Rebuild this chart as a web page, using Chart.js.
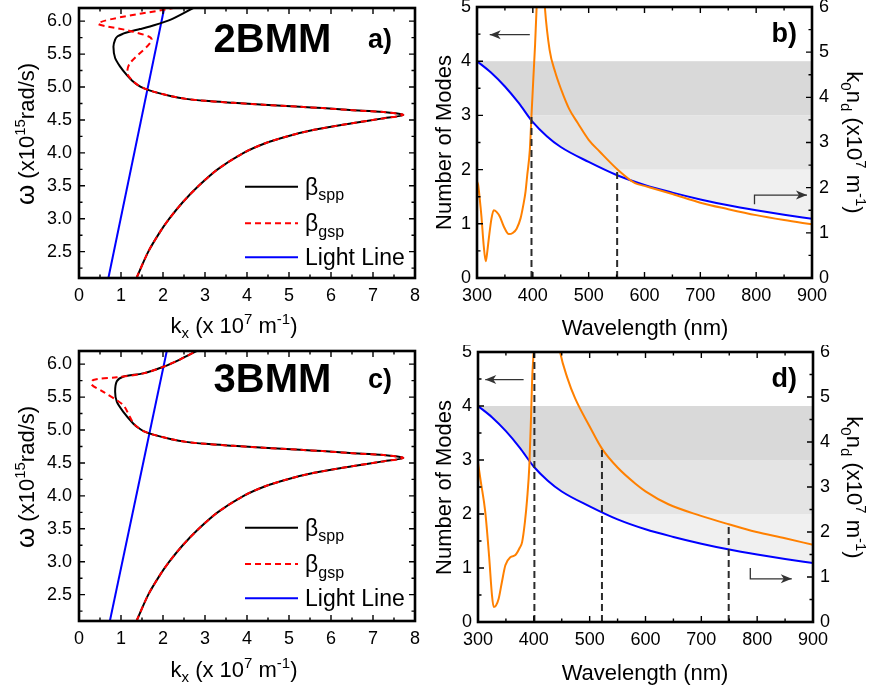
<!DOCTYPE html>
<html>
<head>
<meta charset="utf-8">
<script src="https://cdn.jsdelivr.net/npm/chart.js@4.4.1/dist/chart.umd.min.js"></script>
<style>
  html, body { margin: 0; padding: 0; background: #fff; }
  #fig { position: relative; width: 869px; height: 690px; overflow: hidden; }
  .panel { position: absolute; }
  canvas { display: block; }
</style>
</head>
<body>
<div id="fig">
  <div class="panel" style="left:0;top:0"><canvas id="chartA" width="435" height="345"></canvas></div>
  <div class="panel" style="left:435px;top:0"><canvas id="chartB" width="434" height="345"></canvas></div>
  <div class="panel" style="left:0;top:345px"><canvas id="chartC" width="435" height="345"></canvas></div>
  <div class="panel" style="left:435px;top:345px"><canvas id="chartD" width="434" height="345"></canvas></div>
</div>
<script>
// DISPERSION (a, c): kx in 1e7 m^-1, omega in 1e15 rad/s
const kxRange = [0, 8];
const omegaRange = [2.1, 6.2];

// lower branch, same for spp and gsp in both panels
const omegaLow = [2.10, 2.50, 2.80, 3.00, 3.25, 3.50, 3.75, 4.00, 4.15, 4.25, 4.35, 4.45, 4.52, 4.576, 4.62, 4.65, 4.68, 4.70, 4.73, 4.76, 4.79, 4.82, 4.86, 4.93, 4.98];
const kxLow    = [1.37, 1.65, 1.93, 2.15, 2.47, 2.85, 3.30, 3.92, 4.45, 4.95, 5.60, 6.50, 7.20, 7.72, 7.25, 6.45, 5.80, 5.26, 4.40, 3.67, 3.00, 2.55, 2.20, 1.77, 1.55];

const omegaSppA = [5.03, 5.10, 5.18, 5.31, 5.44, 5.61, 5.72, 5.77, 5.81, 5.84, 5.88, 5.92, 6.02, 6.20];
const kxSppA    = [1.40, 1.26, 1.14, 0.98, 0.86, 0.82, 0.86, 0.92, 1.05, 1.20, 1.45, 1.69, 2.17, 2.72];
const omegaGspA = [5.03, 5.12, 5.21, 5.36, 5.72, 5.84, 5.97, 6.20];
const kxGspA    = [1.40, 1.24, 1.15, 1.21, 1.73, 1.29, 0.46, 2.24];

const omegaSppC = [5.03, 5.10, 5.28, 5.43, 5.58, 5.74, 5.81, 5.86, 5.96, 6.07, 6.20];
const kxSppC    = [1.42, 1.29, 1.05, 0.90, 0.86, 0.90, 1.05, 1.53, 2.01, 2.40, 2.80];
const omegaGspC = [5.03, 5.10, 5.20, 5.38, 5.58, 5.69, 5.76, 5.80, 5.86, 5.96, 6.07, 6.20];
const kxGspC    = [1.42, 1.30, 1.21, 1.05, 0.58, 0.30, 0.34, 0.90, 1.53, 2.01, 2.40, 2.80];

const omegaLight = [2.1, 6.2];
const kxLightA = [0.70, 2.03];
const kxLightC = [0.735, 2.09];

// MODES (b, d)
const lambdaRange = [300, 900];
const modesRange = [0, 5];
const k0ndRange = [0, 6];
const bandLevels = [0, 2, 3, 4];

const lambdaK0nd = [300, 325, 350, 375, 400, 425, 450, 500, 550, 600, 650, 700, 750, 800, 850, 900];
const k0nd       = [4.80, 4.55, 4.24, 3.87, 3.45, 3.14, 2.90, 2.57, 2.28, 2.06, 1.89, 1.74, 1.61, 1.50, 1.40, 1.31];

const lambdaModesB = [300, 302, 305, 308, 312, 315.6, 318, 321.5, 326, 330, 335, 341, 348, 357, 364, 371, 378, 383, 387, 390, 394.6, 397.6, 401, 404, 406.6, 414, 421.5, 430, 440, 451, 465, 481, 500, 520, 553, 583, 600, 650, 700, 750, 800, 850, 900];
const modesB       = [1.78, 1.72, 1.45, 1.13, 0.60, 0.31, 0.45, 0.76, 1.10, 1.25, 1.22, 1.13, 0.95, 0.81, 0.83, 0.91, 1.10, 1.35, 1.60, 1.90, 2.36, 3.00, 3.70, 4.30, 4.95, 6.30, 5.00, 4.21, 3.80, 3.47, 3.12, 2.85, 2.55, 2.33, 1.99, 1.75, 1.70, 1.55, 1.39, 1.27, 1.16, 1.07, 0.99];

const lambdaModesD = [300, 305, 313, 320, 325, 328, 332, 337, 343, 349, 358, 367, 375, 379, 384, 388, 392, 395, 397, 399.6, 405, 420, 435, 441, 447, 460, 474, 500, 522, 550, 582, 600, 641, 698, 749, 797, 850, 900];
const modesD       = [2.95, 2.60, 2.04, 1.20, 0.50, 0.28, 0.30, 0.43, 0.75, 1.05, 1.20, 1.24, 1.38, 1.48, 1.85, 2.28, 2.90, 3.80, 4.50, 5.00, 6.30, 7.50, 5.90, 5.40, 5.00, 4.52, 4.14, 3.62, 3.21, 2.86, 2.56, 2.42, 2.18, 1.97, 1.81, 1.67, 1.55, 1.43];

const dashLambdaB = [397.6, 551];
const dashTopB    = [3.0, 2.0];
const dashLambdaD = [401, 522, 749];
const dashTopD    = [5.0, 3.21, 1.81];

const FONT = '"Liberation Sans", Arial, Helvetica, sans-serif';
const TICK_FONT = { family: FONT, size: 18 };

const pts = (xs, ys) => xs.map((x, i) => ({ x, y: ys[i] }));

// draws text made of plain / sub / sup / big pieces, centred (or left aligned) at x, baseline y
function drawRich(ctx, parts, x, y, size, o = {}) {
  const weight = o.bold ? 'bold ' : '';
  const sizeOf = k => k === 'big' ? Math.round(size * 1.2) : k ? Math.round(size * 0.68) : size;
  const segs = parts.map(p => {
    const [t, k] = Array.isArray(p) ? p : [p, ''];
    const fs = sizeOf(k);
    ctx.font = weight + fs + 'px ' + FONT;
    return { t, k, fs, w: ctx.measureText(t).width };
  });
  const total = segs.reduce((s, g) => s + g.w, 0);
  ctx.save();
  ctx.translate(x, y);
  if (o.rot) ctx.rotate(o.rot);
  ctx.fillStyle = o.color || '#000';
  ctx.textAlign = 'left';
  ctx.textBaseline = 'alphabetic';
  let cx = o.align === 'left' ? 0 : -total / 2;
  for (const g of segs) {
    ctx.font = weight + g.fs + 'px ' + FONT;
    const dy = g.k === 'sup' ? -size * 0.42 : g.k === 'sub' ? size * 0.24 : 0;
    ctx.fillText(g.t, cx, dy);
    cx += g.w;
  }
  ctx.restore();
}

function tickValues(scale) {
  const major = scale.ticks.map(t => t.value);
  const step = major[1] - major[0];
  const minor = [];
  for (let v = major[0] - step / 2; v <= scale.max + 1e-9; v += step) {
    if (v >= scale.min - 1e-9) minor.push(v);
  }
  return { major, minor };
}

function drawTicks(ctx, scale, a, sides) {
  const { major, minor } = tickValues(scale);
  ctx.beginPath();
  for (const [vals, len] of [[major, 6], [minor, 3.5]]) {
    for (const v of vals) {
      const p = scale.getPixelForValue(v);
      for (const s of sides) {
        if (s === 'bottom') { ctx.moveTo(p, a.bottom); ctx.lineTo(p, a.bottom - len); }
        if (s === 'top') { ctx.moveTo(p, a.top); ctx.lineTo(p, a.top + len); }
        if (s === 'left') { ctx.moveTo(a.left, p); ctx.lineTo(a.left + len, p); }
        if (s === 'right') { ctx.moveTo(a.right, p); ctx.lineTo(a.right - len, p); }
      }
    }
  }
  ctx.stroke();
}

const framePlugin = {
  id: 'frame',
  afterDatasetsDraw(chart) {
    const { ctx, chartArea: a, scales } = chart;
    ctx.save();
    ctx.strokeStyle = '#000';
    ctx.lineWidth = 1.4;
    drawTicks(ctx, scales.x, a, ['bottom', 'top']);
    if (scales.y2) {
      drawTicks(ctx, scales.y, a, ['left']);
      drawTicks(ctx, scales.y2, a, ['right']);
    } else {
      drawTicks(ctx, scales.y, a, ['left', 'right']);
    }
    ctx.lineWidth = 2.6;
    ctx.strokeRect(a.left, a.top, a.right - a.left, a.bottom - a.top);
    ctx.restore();
  }
};

// grey bands, only above the k0nd curve
const bandPlugin = {
  id: 'bands',
  beforeDatasetsDraw(chart, args, opts) {
    if (!opts.colors) return;
    const { ctx, chartArea: a } = chart;
    const sy = chart.scales.y;
    const edge = chart.getDatasetMeta(opts.edge).data;
    ctx.save();
    ctx.beginPath();
    edge.forEach((p, i) => i ? ctx.lineTo(p.x, p.y) : ctx.moveTo(p.x, p.y));
    ctx.lineTo(a.right, a.top);
    ctx.lineTo(a.left, a.top);
    ctx.closePath();
    ctx.clip();
    opts.colors.forEach((c, i) => {
      const top = sy.getPixelForValue(bandLevels[i + 1]);
      const bot = sy.getPixelForValue(bandLevels[i]);
      ctx.fillStyle = c;
      ctx.fillRect(a.left, top, a.right - a.left, bot - top);
    });
    ctx.restore();
  }
};

const annotPlugin = {
  id: 'annot',
  afterDraw(chart, args, opts) {
    const ctx = chart.ctx;
    const sx = chart.scales.x, sy = chart.scales.y;
    ctx.save();
    for (const ln of opts.lines || []) {
      const p = ln.pts.map(([u, v]) => ln.data ? [sx.getPixelForValue(u), sy.getPixelForValue(v)] : [u, v]);
      ctx.strokeStyle = ln.color;
      ctx.fillStyle = ln.color;
      ctx.lineWidth = ln.width;
      ctx.setLineDash(ln.dash || []);
      ctx.beginPath();
      p.forEach(([x, y], i) => i ? ctx.lineTo(x, y) : ctx.moveTo(x, y));
      ctx.stroke();
      ctx.setLineDash([]);
      if (ln.head) {
        const [x0, y0] = p[p.length - 2], [x1, y1] = p[p.length - 1];
        const ang = Math.atan2(y1 - y0, x1 - x0);
        ctx.save();
        ctx.translate(x1, y1);
        ctx.rotate(ang);
        ctx.beginPath();
        ctx.moveTo(0, 0);
        ctx.lineTo(-11, -4.5);
        ctx.lineTo(-8, 0);
        ctx.lineTo(-11, 4.5);
        ctx.closePath();
        ctx.fill();
        ctx.restore();
      }
    }
    for (const t of opts.texts || []) drawRich(ctx, t.parts, t.x, t.y, t.size, t);
    ctx.restore();
  }
};

function fixBox(w, h) {
  return s => {
    if (w != null) s.width = w;
    if (h != null) s.height = h;
    s.paddingTop = s.paddingBottom = s.paddingLeft = s.paddingRight = 0;
  };
}

function axis(pos, range, step, fit, pad, fmt) {
  return {
    type: 'linear', position: pos, min: range[0], max: range[1],
    grid: { display: false, drawTicks: false },
    border: { display: false },
    title: { display: false },
    ticks: {
      stepSize: step, includeBounds: false, autoSkip: false, maxRotation: 0,
      padding: pad, color: '#000', font: TICK_FONT,
      callback: fmt || (v => v)
    },
    afterFit: fit
  };
}

const X_TITLE_K = ['k', ['x', 'sub'], ' (x 10', ['7', 'sup'], ' m', ['-1', 'sup'], ')'];
const Y_TITLE_W = [['\u03c9', 'big'], ' (x10', ['15', 'sup'], 'rad/s)'];

function dispersionChart(id, d) {
  const legendY = d.legendY;
  const keyLines = [
    { pts: [[245, legendY[0]], [298, legendY[0]]], color: '#000', width: 2 },
    { pts: [[245, legendY[1]], [298, legendY[1]]], color: '#ff0000', width: 2, dash: [6, 4] },
    { pts: [[245, legendY[2]], [298, legendY[2]]], color: '#0000ff', width: 2 }
  ];
  return new Chart(document.getElementById(id), {
    type: 'scatter',
    data: {
      datasets: [
        { label: 'gsp', data: pts(kxLow.concat(d.kxGsp), omegaLow.concat(d.omegaGsp)),
          borderColor: '#ff0000', borderWidth: 2, borderDash: [6, 4], tension: 0.3, order: 0 },
        { label: 'spp', data: pts(kxLow.concat(d.kxSpp), omegaLow.concat(d.omegaSpp)),
          borderColor: '#000', borderWidth: 2, tension: 0.3, order: 1 },
        { label: 'Light Line', data: pts(d.kxLight, omegaLight),
          borderColor: '#0000ff', borderWidth: 2, tension: 0, order: 2 }
      ].map(ds => Object.assign(ds, { showLine: true, pointRadius: 0, fill: false }))
    },
    options: {
      responsive: false,
      animation: false,
      layout: { padding: { top: d.padTop, right: 20, left: 0, bottom: 0 } },
      scales: {
        x: axis('bottom', kxRange, 1, fixBox(null, d.xHeight), 7),
        y: axis('left', omegaRange, 0.5, fixBox(79, null), 7, v => v.toFixed(1))
      },
      plugins: {
        legend: { display: false },
        tooltip: { enabled: false },
        annot: {
          lines: keyLines,
          texts: [
            { parts: Y_TITLE_W, x: 34, y: d.yTitleMid, size: 22, rot: -Math.PI / 2 },
            { parts: X_TITLE_K, x: 234, y: d.xTitleBase, size: 22 },
            { parts: [d.name], x: 272.5, y: d.nameBase, size: 40, bold: true },
            { parts: [d.tag], x: 368, y: d.nameBase - 4, size: 27, bold: true, align: 'left' },
            { parts: ['\u03b2', ['spp', 'sub']], x: 305, y: legendY[0] + 8, size: 23, align: 'left' },
            { parts: ['\u03b2', ['gsp', 'sub']], x: 305, y: legendY[1] + 8, size: 23, align: 'left' },
            { parts: ['Light Line'], x: 305, y: legendY[2] + 8, size: 23, align: 'left' }
          ]
        }
      }
    },
    plugins: [framePlugin, annotPlugin]
  });
}

function modesChart(id, d) {
  const dashSets = d.dashLambda.map((lam, i) => ({
    label: 'cut ' + lam,
    data: pts([lam, lam], [0, d.dashTop[i]]),
    borderColor: '#2b2b2b', borderWidth: 2, borderDash: [7, 4], yAxisID: 'y', order: 0
  }));
  return new Chart(document.getElementById(id), {
    type: 'scatter',
    data: {
      datasets: [
        ...dashSets,
        { label: 'Number of Modes', data: pts(d.lambdaModes, d.modes), yAxisID: 'y',
          borderColor: '#ff8000', borderWidth: 2, cubicInterpolationMode: 'monotone', order: 1 },
        { label: 'k0nd', data: pts(lambdaK0nd, k0nd), yAxisID: 'y2',
          borderColor: '#0000ff', borderWidth: 2, cubicInterpolationMode: 'monotone', order: 2 }
      ].map(ds => Object.assign(ds, { showLine: true, pointRadius: 0, fill: false }))
    },
    options: {
      responsive: false,
      animation: false,
      layout: { padding: { top: 7, right: 0, left: 0, bottom: 0 } },
      scales: {
        x: axis('bottom', lambdaRange, 100, fixBox(null, d.xHeight), 7),
        y: axis('left', modesRange, 1, fixBox(d.yWidth, null), 6),
        y2: axis('right', k0ndRange, 1, fixBox(d.y2Width, null), 7)
      },
      plugins: {
        legend: { display: false },
        tooltip: { enabled: false },
        bands: { edge: d.dashLambda.length + 1, colors: ['#f0f0f0', '#e4e4e4', '#d9d9d9'] },
        annot: {
          lines: d.arrows.map(p => ({ pts: p, data: true, color: '#333', width: 1.3, head: true })),
          texts: [
            { parts: ['Number of Modes'], x: 16, y: 142.5, size: 22, rot: -Math.PI / 2 },
            { parts: ['k', ['0', 'sub'], 'n', ['d', 'sub'], ' (x10', ['7', 'sup'], ' m', ['-1', 'sup'], ')'],
              x: 411.5, y: 142.5, size: 22, rot: Math.PI / 2 },
            { parts: ['Wavelength (nm)'], x: 210, y: 335, size: 22 },
            { parts: [d.tag], x: 336.5, y: 41.5, size: 27, bold: true, align: 'left' }
          ]
        }
      }
    },
    plugins: [bandPlugin, framePlugin, annotPlugin]
  });
}

dispersionChart('chartA', {
  kxSpp: kxSppA, omegaSpp: omegaSppA, kxGsp: kxGspA, omegaGsp: omegaGspA, kxLight: kxLightA,
  padTop: 8, xHeight: 67, legendY: [186.7, 223.3, 257.3],
  yTitleMid: 134, xTitleBase: 333, name: '2BMM', tag: 'a)', nameBase: 51.5
});

dispersionChart('chartC', {
  kxSpp: kxSppC, omegaSpp: omegaSppC, kxGsp: kxGspC, omegaGsp: omegaGspC, kxLight: kxLightC,
  padTop: 6, xHeight: 69, legendY: [182.7, 219, 253.3],
  yTitleMid: 132, xTitleBase: 332, name: '3BMM', tag: 'c)', nameBase: 46.5
});

modesChart('chartB', {
  lambdaModes: lambdaModesB, modes: modesB, dashLambda: dashLambdaB, dashTop: dashTopB,
  yWidth: 42, y2Width: 57, xHeight: 67, tag: 'b)',
  arrows: [
    [[394.6, 4.49], [322.8, 4.49]],
    [[797, 1.36], [797, 1.53], [891, 1.53]]
  ]
});

modesChart('chartD', {
  lambdaModes: lambdaModesD, modes: modesD, dashLambda: dashLambdaD, dashTop: dashTopD,
  yWidth: 43, y2Width: 56, xHeight: 68, tag: 'd)',
  arrows: [
    [[381.7, 4.49], [313, 4.49]],
    [[787.7, 1.0], [787.7, 0.80], [862, 0.80]]
  ]
});
</script>
</body>
</html>
